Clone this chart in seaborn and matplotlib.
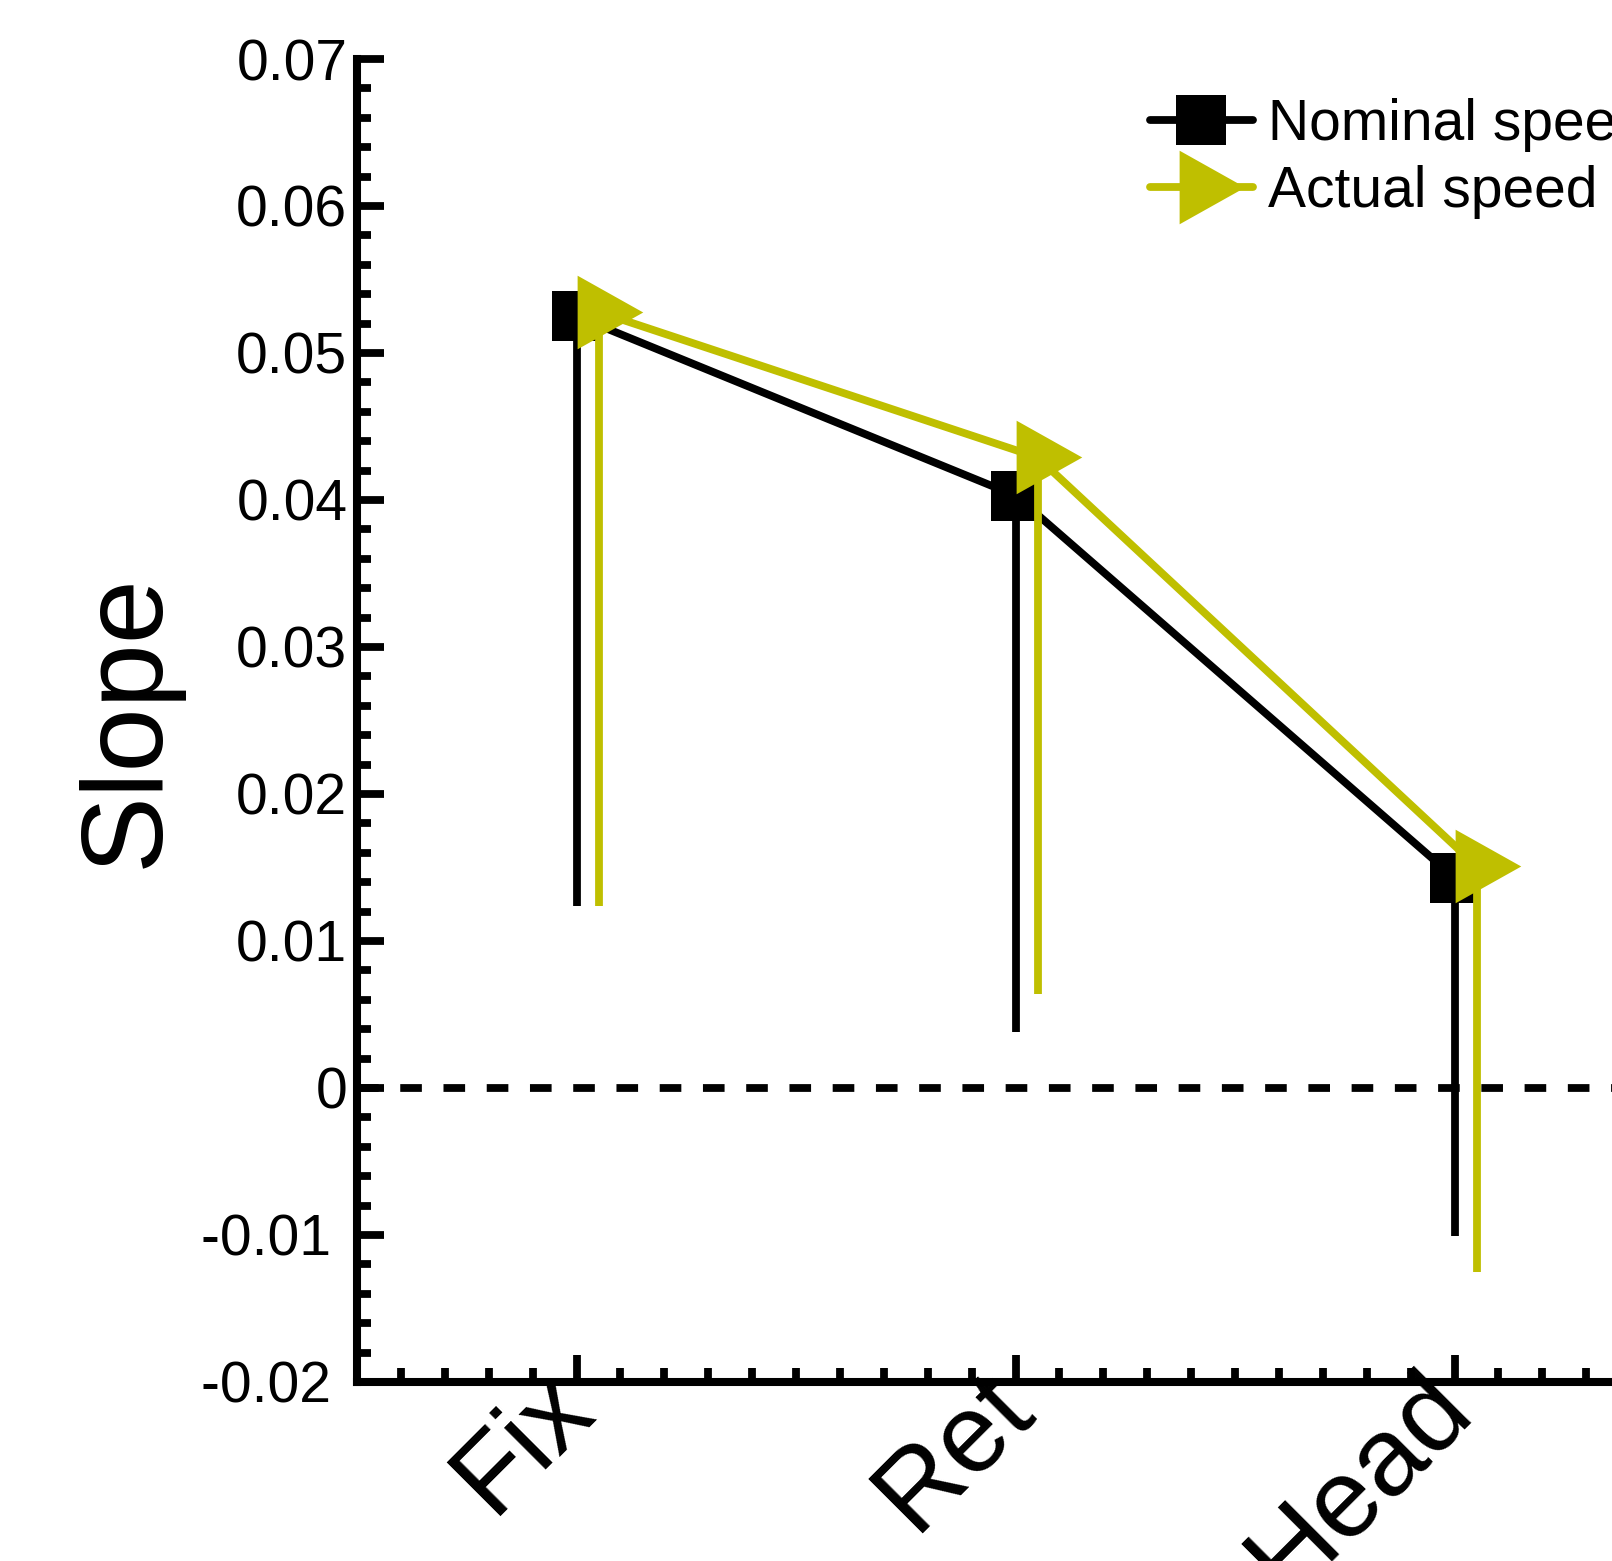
import numpy as np
import matplotlib
matplotlib.use('Agg')
import matplotlib.pyplot as plt
import matplotlib.transforms as mtransforms
import seaborn as sns
import pandas as pd
from matplotlib.path import Path
from matplotlib.ticker import MultipleLocator
from matplotlib.lines import Line2D

# ---------------- data ----------------
categories = ['Fix', 'Ret', 'Head']
series_names = ['Nominal speed', 'Actual speed']
nominal_speed = [0.0525, 0.0403, 0.0143]
actual_speed = [0.0528, 0.0429, 0.0151]
nominal_err_low = [0.0401, 0.0365, 0.0244]
actual_err_low = [0.0404, 0.0365, 0.0276]
ytick_values = [-0.02, -0.01, 0, 0.01, 0.02, 0.03, 0.04, 0.05, 0.06, 0.07]
ytick_labels = ['-0.02 ', '-0.01 ', '0', '0.01', '0.02', '0.03', '0.04', '0.05', '0.06', '0.07']

# ---------------- style ----------------
sns.set_style('ticks')
plt.rcParams['font.family'] = ['Liberation Sans', 'DejaVu Sans']
for k in ['text.color', 'axes.labelcolor', 'xtick.color', 'ytick.color', 'axes.edgecolor']:
    plt.rcParams[k] = 'black'

BLACK = '#000000'
YELLOW = '#BFBF00'
LW = 5.6
TW = 5.6

fig = plt.figure(figsize=(16.12, 15.61), dpi=100)
ax = fig.add_axes([0.2215, 0.1147, 0.817, 0.8475])

x_pos = np.arange(1, len(categories) + 1, dtype=float)
offset = 0.05

tri = Path([(44, 0), (-22, 37), (-22, -37), (44, 0)],
           [Path.MOVETO, Path.LINETO, Path.LINETO, Path.CLOSEPOLY])

df = pd.DataFrame({
    'x': np.concatenate([x_pos, x_pos + offset]),
    'slope': nominal_speed + actual_speed,
    'err': nominal_err_low + actual_err_low,
    'series': [series_names[0]] * 3 + [series_names[1]] * 3,
})

ax.axhline(0, color='black', lw=LW, dashes=(2.78, 2.78), zorder=1)

styles = {
    series_names[0]: dict(color=BLACK, marker='s', ms=36, z=3),
    series_names[1]: dict(color=YELLOW, marker=tri, ms=63, z=4),
}
handles = []
for name in series_names:
    sub = df[df['series'] == name]
    st = styles[name]
    ax.errorbar(sub['x'], sub['slope'], yerr=[sub['err'], np.zeros(len(sub))],
                fmt='none', ecolor=st['color'], elinewidth=LW, capsize=0,
                zorder=st['z'])
    sns.lineplot(data=sub, x='x', y='slope', color=st['color'], lw=LW,
                 marker=st['marker'], markersize=st['ms'], mew=0,
                 ax=ax, zorder=st['z'], legend=False)
    handles.append(Line2D([], [], color=st['color'], lw=LW, marker=st['marker'],
                          markersize=st['ms'], mew=0))

# ---------------- axes ----------------
ax.set_xlim(0.5, 3.5)
ax.set_ylim(-0.02, 0.07)
ax.set_xticks(x_pos)
ax.set_xticklabels(categories, rotation=45, ha='right', va='center',
                   rotation_mode='anchor', fontsize=80)
shift = mtransforms.ScaledTranslation(8 / 100, 0, fig.dpi_scale_trans)
for lab in ax.get_xticklabels():
    lab.set_transform(lab.get_transform() + shift)
ax.xaxis.set_minor_locator(MultipleLocator(0.1))
ax.set_yticks(ytick_values)
ax.set_yticklabels(ytick_labels, fontsize=41)
ax.yaxis.set_minor_locator(MultipleLocator(0.002))

ax.tick_params(which='major', direction='in', length=19.5, width=TW, color='black')
ax.tick_params(which='minor', direction='in', length=10, width=TW, color='black')
ax.tick_params(axis='y', which='major', pad=7)
ax.tick_params(axis='x', which='major', pad=6)

for s in ['top', 'right']:
    ax.spines[s].set_visible(False)
for s in ['left', 'bottom']:
    ax.spines[s].set_linewidth(5.8)
    ax.spines[s].set_color('black')

ax.set_xlabel('')
ax.set_ylabel('Slope', fontsize=83)
ax.yaxis.set_label_coords(-0.1329, 0.5)

leg = fig.legend(handles, series_names, loc='upper left',
                 bbox_to_anchor=(1150 / 1612, 1 - 97.5 / 1561),
                 frameon=False, fontsize=41, handlelength=1.8,
                 handletextpad=0.28, labelspacing=0.24, borderpad=0,
                 borderaxespad=0, numpoints=1)

fig.savefig('out.png', dpi=100)
